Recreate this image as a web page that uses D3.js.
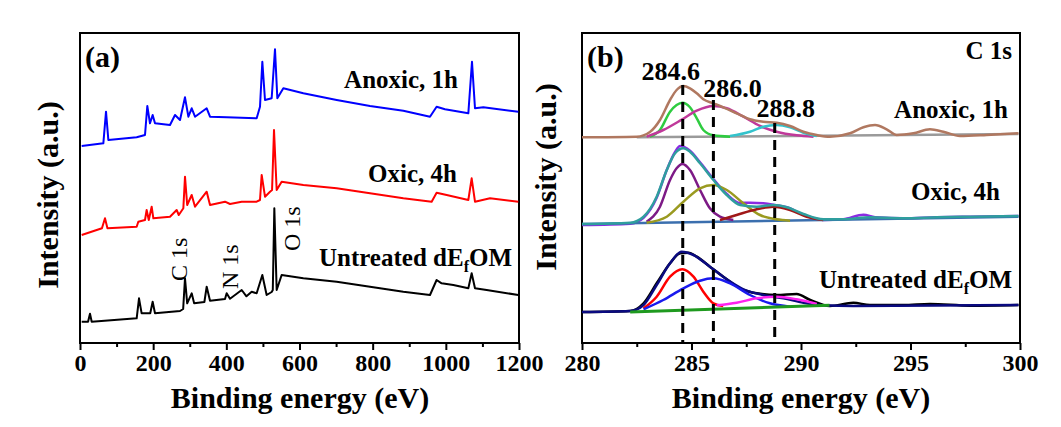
<!DOCTYPE html>
<html>
<head>
<meta charset="utf-8">
<script src="https://cdn.jsdelivr.net/npm/d3@7"></script>
<style>
  body { margin: 0; background: #fff; }
  text { font-family: "Liberation Serif", "Times New Roman", serif; font-weight: bold; fill: #000; }
</style>
</head>
<body>
<div id="chart"></div>
<script>
// ---- panel (a): survey spectra, [binding energy, intensity] ----
var surveyUntreated = [[4.6,20.3],[22,20.3],[27.3,28.3],[32,20.3],[154.9,23.7],[161.3,43.7],[168.5,28.7],[192,28.7],
  [198.6,40.3],[205,28.7],[273.4,31],[282,33],[287,63.7],[293,38.7],[305.3,48.7],[312,38.7],[340,40],[346.3,55.3],
  [355.4,41.3],[396.4,43],[400.9,48.7],[410,43.3],[442,52],[455,45.7],[469.3,50.3],[482.9,48.7],[498.4,67],[510.2,47],
  [523.9,50],[527,52],[531.2,133.7],[537.6,52],[551.2,67],[610.5,63.7],[701.6,60.3],[792.7,55.3],[883.8,50.3],
  [956.7,47],[974.8,62],[988.5,58.7],[1020.5,57],[1061.5,53.7],[1070.6,68.7],[1079.7,53.7],[1111.6,52],[1198.1,47]];
var surveyOxic = [[4.6,107],[60,113.7],[68.3,123.7],[75,113.7],[154.9,115.3],[159.4,120.3],[177.7,122],[182.2,132],
  [188,122],[195.9,135.3],[200.5,123.7],[246,125.3],[264.2,132],[270,127],[282.5,133.7],[287,165.3],[293,137],
  [305.3,147],[314.4,135.3],[346.3,150.3],[355.4,137],[396.4,140.3],[410,138],[442,140.3],[482.9,140.3],[492,142],
  [496.6,167],[505.7,145.3],[519.4,150.3],[525,152],[530.3,212],[537.6,152],[551.2,160.3],[610.5,157],[701.6,153.7],
  [792.7,148.7],[883.8,143.7],[961.2,140.3],[974.8,149.3],[1002.3,147],[1061.5,142],[1070.6,163.7],[1079.7,140.3],
  [1120.8,143.7],[1198.1,140.3]];
var surveyAnoxic = [[4.6,196],[63.8,198.7],[71.1,230.3],[77.5,202],[154.9,204.7],[177.7,207],[184,236],[191.3,218.7],
  [198.6,227],[205,218.7],[246,217],[259.7,227],[273.4,222],[287,244.7],[296.2,225.3],[305.3,233.7],[314.4,225.3],
  [346.3,233.7],[355.4,225.3],[400.9,224.7],[482.9,223.7],[492,235.3],[498.4,280.3],[505.7,242],[523.9,243.7],
  [533,292.7],[539.4,243.7],[555.8,253.7],[610.5,248.7],[701.6,242],[792.7,236],[883.8,231.3],[956.7,225.3],
  [974.8,235.3],[997.7,232.7],[1061.5,228.7],[1071.5,280.3],[1079.7,233.7],[1102.5,234.7],[1198.1,230.3]];

// ---- panel (b): C 1s high resolution ----
var anoxicData = [[280.0,204.7],[282.5,205.3],[283.1,210],[283.56,222],[284.02,242],[284.32,252],[284.63,256],
  [284.93,253.7],[285.24,248.7],[285.54,242.7],[286.0,238.7],[286.45,234.7],[287.06,228.7],[287.67,222.7],
  [288.28,220.3],[288.89,219.3],[289.5,216],[290.11,210.3],[290.72,207],[291.32,205.3],[292.24,208.7],[292.85,214.7],
  [293.38,217],[293.91,212.7],[294.37,207],[295.13,208.7],[295.89,212.7],[296.5,210.3],[297.26,206],[298.48,207],
  [299.93,208.7]];
var anoxicBase = [[282.5,204.7],[299.93,208]];
var anoxicC1 = [[283.1,205.3],[283.56,212],[284.02,230.3],[284.32,237],[284.58,239.3],[284.93,234.7],[285.24,223.7],
  [285.54,212],[286.0,206.7],[286.76,205.3]];
var anoxicC2 = [[282.95,205.3],[283.71,212],[284.58,222.7],[285.24,231.3],[286.0,236],[286.61,233.7],[287.37,225.3],
  [288.13,216],[288.89,210.3],[289.8,206.7],[290.57,205.3]];
var anoxicC3 = [[286.76,206],[287.67,210.3],[288.28,215.3],[288.89,217],[289.5,214.7],[290.11,209.3],[290.72,206]];

var oxicData = [[280.0,117],[282.2,118.3],[282.81,124.3],[283.41,144.3],[283.87,172],[284.25,190],[284.48,196],
  [284.93,191.3],[285.39,179.7],[286.0,163],[286.61,148],[287.22,139],[287.67,139.3],[288.28,138.7],[288.74,137.3],
  [289.35,134.7],[290.11,127.3],[291.02,122],[291.93,122.7],[292.85,127.3],[293.38,124.7],[294.67,123.7],
  [296.2,124.7],[297.72,125.3],[299.93,126]];
var oxicFit = [[280.0,118],[282.2,119.3],[282.81,125.3],[283.41,145.3],[283.87,172],[284.25,188.7],[284.63,193.7],
  [284.93,190.3],[285.39,178.7],[286.0,162],[286.61,147],[287.22,137],[287.98,135.3],[288.74,137],[289.35,134.7],
  [290.11,128],[291.02,122.7],[291.93,122.7],[293.15,124.7],[294.67,123.7],[296.2,124.7],[297.72,125.3],[299.93,126]];
var oxicBase = [[280.0,118],[299.93,125.3]];
var oxicC1 = [[282.95,120.3],[283.56,135.3],[284.02,162],[284.32,173.7],[284.58,178],[284.93,172],[285.39,152],
  [285.84,133.7],[286.3,125.3],[286.91,122]];
var oxicC2 = [[282.95,119.3],[283.87,125.3],[284.63,140.3],[285.39,153.7],[286.0,157],[286.61,152],[287.37,138.7],
  [288.13,127],[288.89,122.7],[289.5,121.3]];
var oxicC3 = [[286.3,122],[287.06,127],[287.98,132.7],[288.74,135.3],[289.5,132],[290.26,125.3],[291.02,122]];

var rawData = [[280.0,30],[282.2,31],[282.81,38.7],[283.41,58.7],[284.02,78.7],[284.48,88.7],[284.86,89.3],
  [285.24,85.3],[285.84,75.3],[286.45,65.3],[287.22,53.7],[287.98,48.7],[288.89,47],[289.8,48],[290.42,42],
  [291.32,36],[292.39,39.3],[293.15,37],[294.67,37],[295.89,38],[297.72,36.3],[299.93,37]];
var rawFit = [[280.0,30],[282.2,31],[282.81,37],[283.41,57],[284.02,78.7],[284.55,90.3],[285.09,87],[285.84,75.3],
  [286.61,62.7],[287.37,52.7],[288.28,47],[289.2,43.7],[290.11,39.3],[291.02,36.7],[292.39,36],[299.93,37]];
var rawBase = [[282.2,30],[291.3,36.7]];
var rawC1 = [[282.81,33.7],[283.41,45.3],[284.02,65.3],[284.58,72.7],[285.09,65.3],[285.54,50.3],[286.0,38.7],[286.45,36]];
var rawC2 = [[282.81,32.7],[283.71,42],[284.63,53.7],[285.39,61.3],[286.0,63.7],[286.76,58.7],[287.67,47],
  [288.58,38.7],[289.5,35.3]];
var rawC3 = [[286.15,36.7],[287.06,39.3],[287.98,43.7],[288.89,45.3],[289.8,42.7],[290.72,38]];

var peakPositions = [284.6, 286.0, 288.8];
var peakTops = [257, 242, 219];
var surveyTicks = [0, 200, 400, 600, 800, 1000, 1200];
var hrTicks = [280, 285, 290, 295, 300];

var serif = '"Liberation Serif", "Times New Roman", serif';

var svg = d3.select("#chart").append("svg")
    .attr("width", 1061)
    .attr("height", 427);

var boxTop = 33, boxBottom = 343;
var y = d3.scaleLinear().domain([0, 310]).range([342, 32]);

function panel(x0, x1, domain, major, minorStep) {
    var x = d3.scaleLinear().domain(domain).range([x0, x1]);
    var g = svg.append("g");
    var minor = d3.range(domain[0], domain[1] + 1e-9, minorStep)
        .filter(function(v) { return major.indexOf(v) < 0; });
    g.append("g").attr("transform", "translate(0," + boxBottom + ")")
        .call(d3.axisBottom(x).tickValues(minor).tickSize(4).tickFormat(""))
        .call(function(s) { s.select(".domain").remove(); s.selectAll("line").attr("stroke-width", 2); });
    g.append("g").attr("transform", "translate(0," + boxBottom + ")")
        .call(d3.axisBottom(x).tickValues(major).tickSize(7).tickPadding(4).tickFormat(d3.format("d")))
        .call(function(s) {
            s.select(".domain").remove();
            s.attr("font-family", serif).attr("font-size", 24);
            s.selectAll("line").attr("stroke-width", 2);
            s.selectAll("text").attr("fill", "#000").style("font-family", serif).style("font-weight", "bold");
        });
    g.append("rect").attr("x", x0).attr("y", boxTop).attr("width", x1 - x0).attr("height", boxBottom - boxTop)
        .attr("fill", "none").attr("stroke", "#000").attr("stroke-width", 2);
    return {x: x, g: g};
}

function drawLine(p, pts, color, width, curve) {
    var line = d3.line()
        .x(function(d) { return p.x(d[0]); })
        .y(function(d) { return y(d[1]); })
        .curve(curve || d3.curveLinear);
    p.g.append("path").datum(pts)
        .attr("d", line)
        .attr("fill", "none")
        .attr("stroke", color)
        .attr("stroke-width", width)
        .attr("stroke-linejoin", "round");
}

function label(x, yy, txt, size, anchor) {
    return svg.append("text").attr("x", x).attr("y", yy)
        .attr("font-size", size).attr("text-anchor", anchor || "start").text(txt);
}

function untreatedLabel(xRight, yy) {
    var t = svg.append("text").attr("x", xRight).attr("y", yy)
        .attr("font-size", 25).attr("text-anchor", "end");
    t.append("tspan").text("Untreated dE");
    t.append("tspan").attr("font-size", 16).attr("dy", 6).text("f");
    t.append("tspan").attr("dy", -6).text("OM");
}

// ---- panel (a) ----
var pa = panel(80, 519, [0, 1200], surveyTicks, 100);
drawLine(pa, surveyUntreated, "#000", 2);
drawLine(pa, surveyOxic, "#ff0000", 2);
drawLine(pa, surveyAnoxic, "#0000ff", 2);

label(85, 67, "(a)", 30);
label(458, 88, "Anoxic, 1h", 25, "end");
label(457, 182, "Oxic, 4h", 25, "end");
untreatedLabel(512, 266);

[["C 1s", 187, 281], ["N 1s", 238, 289], ["O 1s", 300, 251]].forEach(function(d) {
    svg.append("text").attr("transform", "translate(" + d[1] + "," + d[2] + ") rotate(-90)")
        .attr("font-size", 24).style("font-weight", "normal").text(d[0]);
});

// ---- panel (b) ----
var pb = panel(582, 1020, [280, 300], hrTicks, 2.5);
var smooth = d3.curveMonotoneX;

drawLine(pb, anoxicBase, "#9a9a9a", 2.5);
drawLine(pb, anoxicC1, "#2ecc40", 2.5, smooth);
drawLine(pb, anoxicC2, "#c0399a", 2.5, smooth);
drawLine(pb, anoxicC3, "#33c3cc", 2.5, smooth);
drawLine(pb, anoxicData, "#b07860", 2.5, smooth);

drawLine(pb, oxicData, "#8a2be2", 2.5, smooth);
drawLine(pb, oxicBase, "#3b6fae", 2.5);
drawLine(pb, oxicC1, "#7d1a86", 2.5, smooth);
drawLine(pb, oxicC2, "#9a9a20", 2.5, smooth);
drawLine(pb, oxicC3, "#a01818", 2.5, smooth);
drawLine(pb, oxicFit, "#2f9e9e", 2.5, smooth);

drawLine(pb, rawData, "#000", 2.5, smooth);
drawLine(pb, rawFit, "#0a0a80", 2.5, smooth);
drawLine(pb, rawC1, "#ff0000", 2.5, smooth);
drawLine(pb, rawC2, "#1a1aee", 2.5, smooth);
drawLine(pb, rawC3, "#ff22ee", 2.5, smooth);
drawLine(pb, rawBase, "#1f9a1f", 3);

pb.g.selectAll("line.peak")
    .data(peakPositions)
    .enter().append("line")
    .attr("class", "peak")
    .attr("x1", function(d) { return pb.x(d); })
    .attr("x2", function(d) { return pb.x(d); })
    .attr("y1", function(d, i) { return y(peakTops[i]); })
    .attr("y2", y(0))
    .attr("stroke", "#000")
    .attr("stroke-width", 3)
    .attr("stroke-dasharray", "10,7");

label(587, 67, "(b)", 30);
label(1012, 59, "C 1s", 25, "end");
pb.g.selectAll("text.peaklab")
    .data(peakPositions)
    .enter().append("text")
    .attr("class", "peaklab")
    .attr("x", function(d, i) { return pb.x(d) + [-12, 19, 11][i]; })
    .attr("y", function(d, i) { return [80, 97, 117][i]; })
    .attr("font-size", 26)
    .attr("text-anchor", "middle")
    .text(function(d) { return d.toFixed(1); });
label(1008, 118, "Anoxic, 1h", 25, "end");
label(1000, 200, "Oxic, 4h", 25, "end");
untreatedLabel(1012, 288);

// ---- axis titles ----
label(300, 408, "Binding energy (eV)", 30, "middle");
label(801, 408, "Binding energy (eV)", 30, "middle");
svg.append("text").attr("transform", "translate(58,195) rotate(-90)")
    .attr("font-size", 30).attr("text-anchor", "middle").text("Intensity (a.u.)");
svg.append("text").attr("transform", "translate(556,177) rotate(-90)")
    .attr("font-size", 30).attr("text-anchor", "middle").text("Intensity (a.u.)");
</script>
</body>
</html>
